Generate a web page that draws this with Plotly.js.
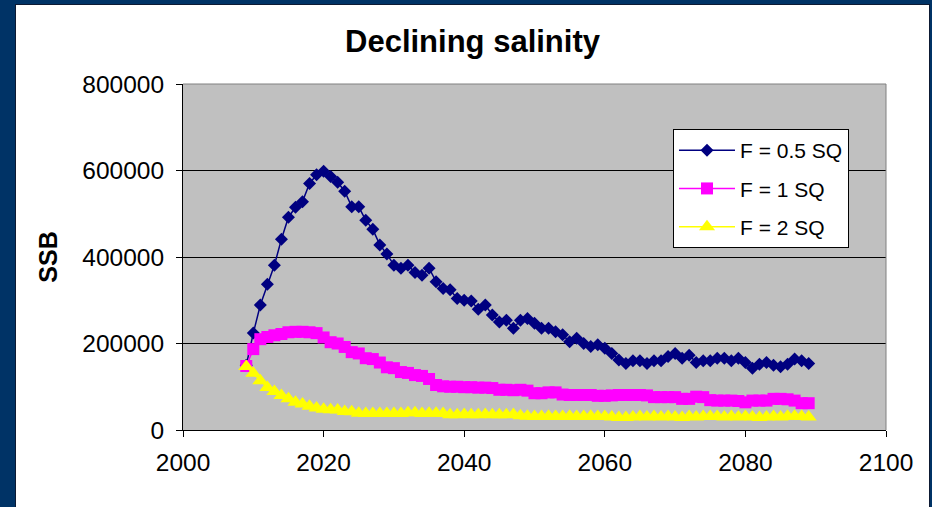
<!DOCTYPE html>
<html>
<head>
<meta charset="utf-8">
<script src="https://cdn.plot.ly/plotly-3.0.1.min.js"></script>
<style>
  html, body { margin: 0; padding: 0; background: #003366; width: 932px; height: 507px; overflow: hidden; }
  #frame { position: absolute; left: 15px; top: 4px; width: 913px; height: 520px; border: 1px solid #0d1a33; background: #ffffff; }
  #chart { position: absolute; left: 0; top: 0; width: 913px; height: 502px; }
</style>
</head>
<body>
<div id="frame"><div id="chart"></div></div>
<script>
const years = [];
for (let y = 2009; y <= 2089; y++) years.push(y);

const seriesNames = ["F = 0.5 SQ", "F = 1 SQ", "F = 2 SQ"];

const ssbHalfSQ = [
  150000, 224000, 289000, 337000, 381000, 441000, 492000, 515000, 528000, 570000,
  590000, 598000, 586000, 573000, 552000, 516000, 516000, 485000, 464000, 428000,
  407000, 381000, 374000, 381000, 364000, 358000, 374000, 343000, 327000, 324000,
  304000, 300000, 298000, 279000, 289000, 266000, 250000, 254000, 235000, 254000,
  258000, 247000, 235000, 235000, 227000, 220000, 204000, 212000, 200000, 193000,
  197000, 189000, 177000, 162000, 154000, 160000, 160000, 154000, 160000, 160000,
  170000, 177000, 166000, 173000, 156000, 160000, 160000, 166000, 166000, 160000,
  166000, 156000, 143000, 152000, 156000, 150000, 146000, 152000, 164000, 160000,
  154000
];

const ssbOneSQ = [
  148000, 187000, 210000, 215000, 219000, 222000, 226000, 227000, 227000, 226000,
  224000, 214000, 203000, 200000, 192000, 180000, 177000, 166000, 164000, 156000,
  145000, 143000, 134000, 132000, 127000, 125000, 118000, 104000, 101000, 100000,
  100000, 99000, 99000, 98000, 98000, 97000, 93000, 93000, 92000, 93000,
  91000, 85000, 85000, 87000, 87000, 82000, 81000, 81000, 81000, 81000,
  79000, 79000, 80000, 81000, 81000, 81000, 81000, 80000, 76000, 76000,
  76000, 76000, 72000, 72000, 77000, 76000, 69000, 68000, 68000, 68000,
  67000, 64000, 68000, 68000, 68000, 72000, 72000, 71000, 68000, 62000,
  62000
];

const ssbTwoSQ = [
  147000, 131000, 114000, 98000, 89000, 80000, 72000, 64000, 60000, 55000,
  51000, 48000, 47000, 46000, 43000, 42000, 39000, 38000, 38000, 38000,
  38000, 38000, 38000, 40000, 40000, 38000, 39000, 39000, 38000, 35000,
  35000, 36000, 35000, 35000, 36000, 35000, 35000, 35000, 36000, 33000,
  32000, 31000, 31000, 32000, 31000, 31000, 32000, 31000, 31000, 32000,
  31000, 31000, 30000, 29000, 29000, 30000, 31000, 30000, 31000, 30000,
  31000, 30000, 29000, 31000, 30000, 31000, 31000, 31000, 30000, 31000,
  30000, 31000, 30000, 29000, 30000, 31000, 30000, 32000, 32000, 31000,
  30000
];

const xTickVals = [2000, 2020, 2040, 2060, 2080, 2100];
const yTickVals = [0, 200000, 400000, 600000, 800000];

const FONT = "Liberation Sans, Arial, sans-serif";

const traces = [
  {
    x: years, y: ssbHalfSQ, name: seriesNames[0], type: "scatter", mode: "lines+markers",
    legendgroup: "a",
    line: { color: "#000080", width: 1.5 },
    marker: { symbol: "diamond", size: 10, color: "#000080" }
  },
  {
    x: years, y: ssbOneSQ, name: seriesNames[1], type: "scatter", mode: "lines+markers",
    legendgroup: "b",
    line: { color: "#FF00FF", width: 1.5 },
    marker: { symbol: "square", size: 12, color: "#FF00FF" }
  },
  {
    x: years, y: ssbTwoSQ, name: seriesNames[2], type: "scatter", mode: "lines+markers",
    legendgroup: "c",
    line: { color: "#FFFF00", width: 1.5 },
    marker: { symbol: "triangle-up", size: 14, color: "#FFFF00" }
  }
];

const layout = {
  width: 913, height: 502,
  margin: { l: 167, r: 43, t: 79, b: 77 },
  paper_bgcolor: "#ffffff",
  plot_bgcolor: "#C0C0C0",
  font: { family: FONT, color: "#000000", size: 24.5 },
  title: {
    text: "<b>Declining salinity</b>",
    font: { family: FONT, size: 31, color: "#000000" },
    x: 0.5, xref: "container", xanchor: "center",
    y: 0.928, yref: "container", yanchor: "middle"
  },
  showlegend: true,
  legend: {
    x: 0.697, y: 0.870, xanchor: "left", yanchor: "top",
    bgcolor: "#ffffff", bordercolor: "#000000", borderwidth: 1,
    font: { family: FONT, size: 21, color: "#000000" },
    tracegroupgap: 8,
    itemwidth: 56
  },
  xaxis: {
    range: [2000, 2100],
    tickvals: xTickVals,
    ticktext: xTickVals.map(String),
    showgrid: false, zeroline: false,
    showline: true, linecolor: "#000000", linewidth: 1,
    ticks: "outside", ticklen: 6, tickcolor: "#000000", tickwidth: 1,
    ticklabelstandoff: 5,
    tickfont: { family: FONT, size: 24.5, color: "#000000" },
    fixedrange: true
  },
  yaxis: {
    range: [0, 800000],
    tickvals: yTickVals,
    ticktext: yTickVals.map(String),
    showgrid: true, gridcolor: "#000000", gridwidth: 1,
    zeroline: false,
    showline: true, linecolor: "#000000", linewidth: 1,
    ticks: "outside", ticklen: 6, tickcolor: "#000000", tickwidth: 1,
    ticklabelstandoff: 7,
    tickfont: { family: FONT, size: 24.5, color: "#000000" },
    title: { text: "<b>SSB</b>", font: { family: FONT, size: 25, color: "#000000" }, standoff: 17 },
    fixedrange: true
  },
  shapes: [
    { type: "line", xref: "paper", yref: "paper", x0: 0, x1: 1, y0: 1, y1: 1, line: { color: "#808080", width: 1 }, layer: "above" },
    { type: "line", xref: "paper", yref: "paper", x0: 1, x1: 1, y0: 0, y1: 1, line: { color: "#808080", width: 1 }, layer: "above" }
  ]
};

Plotly.newPlot("chart", traces, layout, { displayModeBar: false, staticPlot: true });
</script>
</body>
</html>
